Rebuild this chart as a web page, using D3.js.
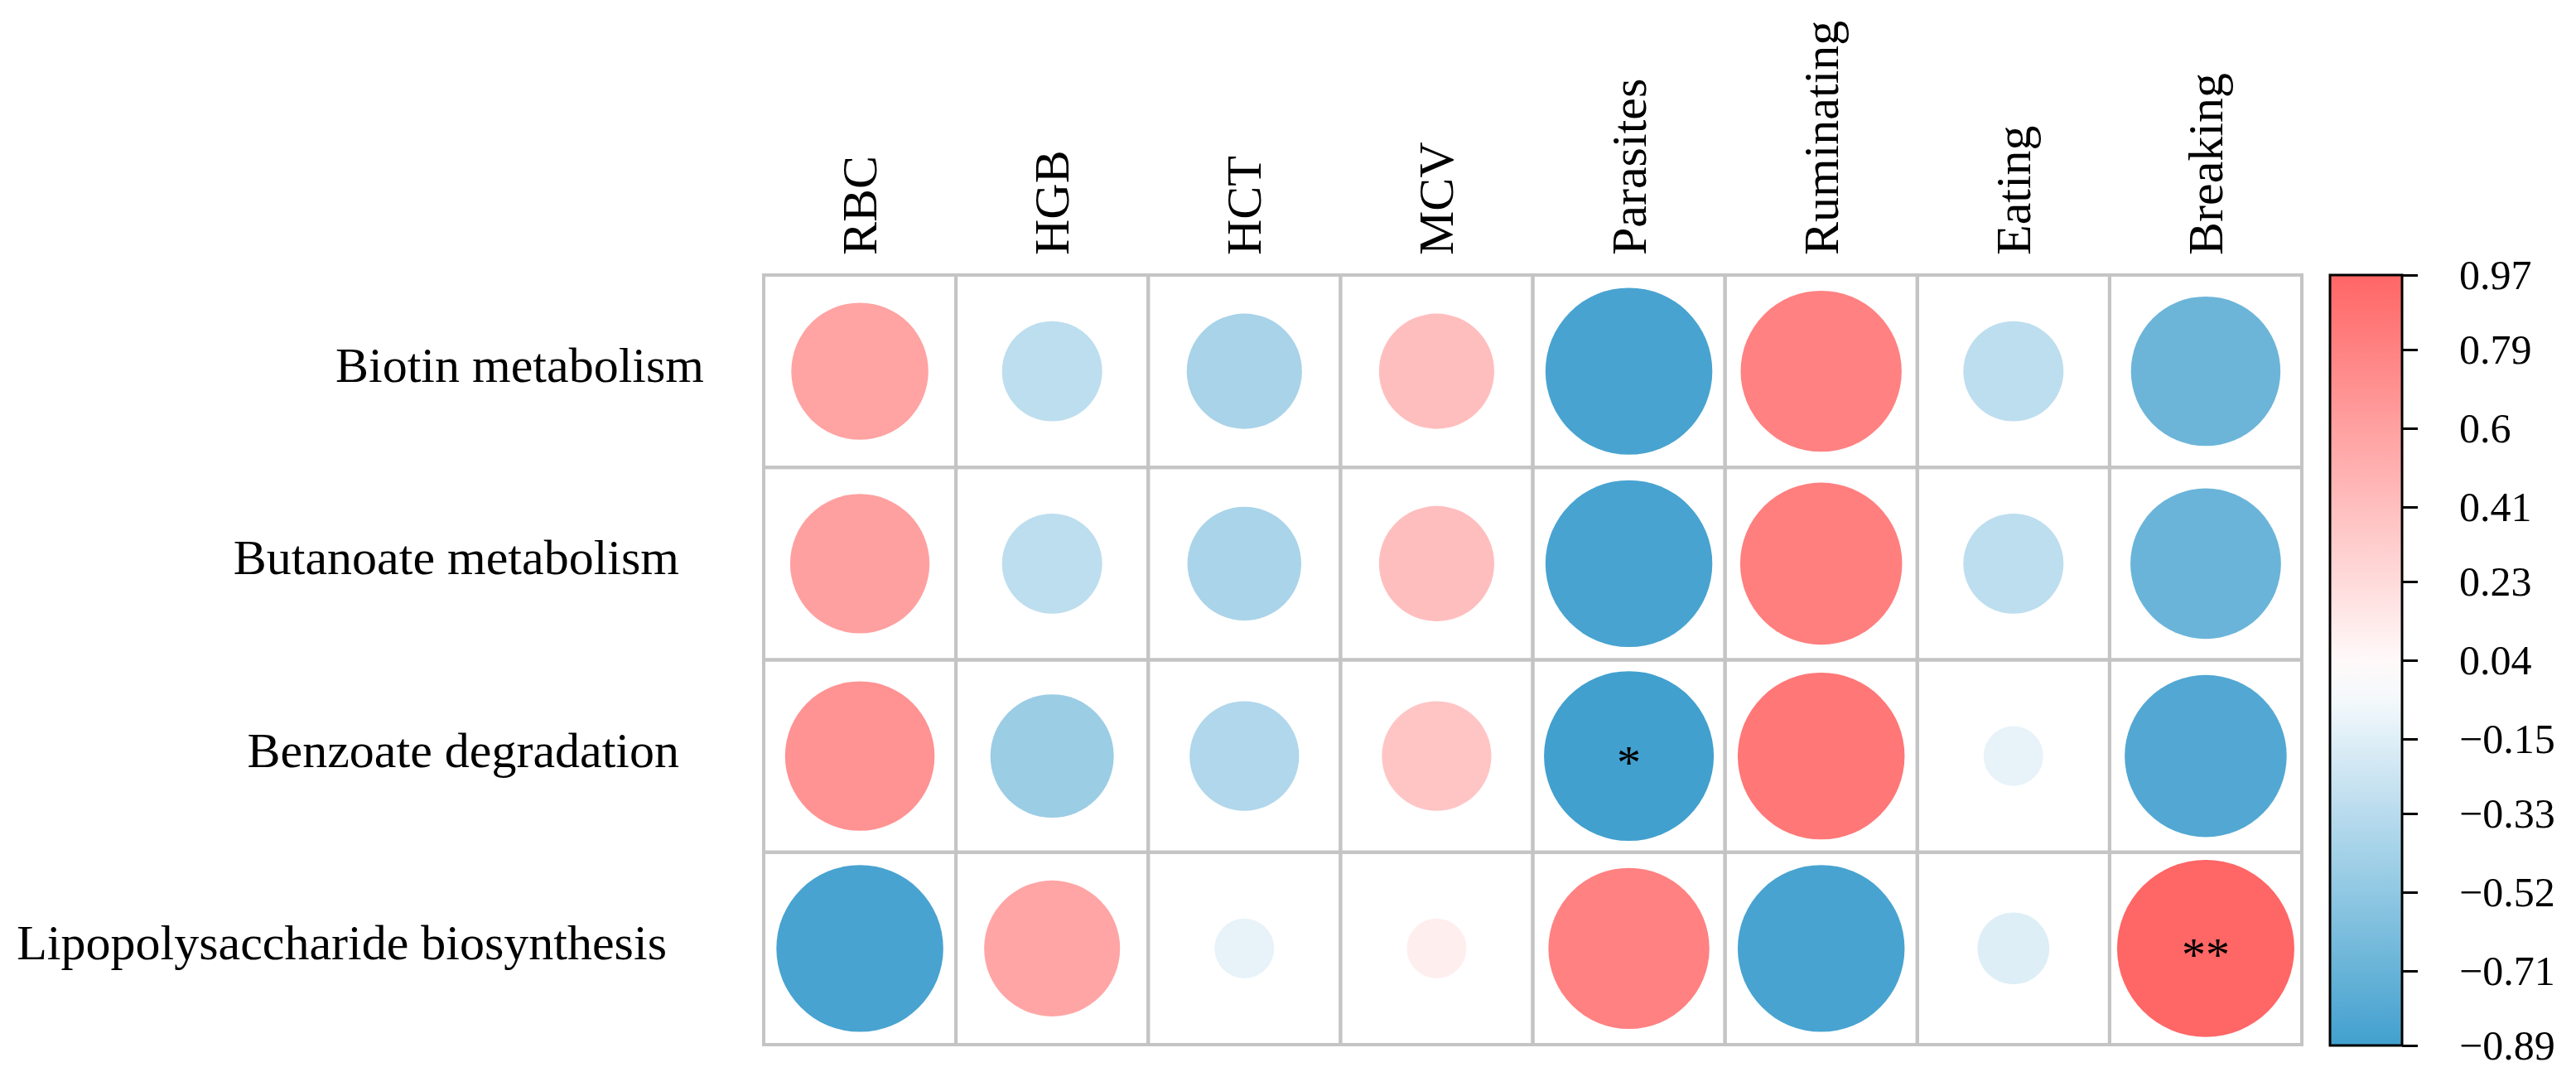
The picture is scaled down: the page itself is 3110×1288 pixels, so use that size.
<!DOCTYPE html>
<html>
<head>
<meta charset="utf-8">
<script src="https://cdn.jsdelivr.net/npm/d3@7"></script>
<style>
  body { margin: 0; background: #fff; }
  text { font-family: "Liberation Serif", "Times New Roman", serif; fill: #000; }
</style>
</head>
<body>
<div id="chart"></div>
<script>
// rows and columns of the correlation matrix
const pathways = ["Biotin metabolism", "Butanoate metabolism", "Benzoate degradation", "Lipopolysaccharide biosynthesis"];
const labelPad = [0, 2, 2, 3];   // trailing spaces on the row labels, as in the original
const traits = ["RBC", "HGB", "HCT", "MCV", "Parasites", "Ruminating", "Eating", "Breaking"];

// correlation coefficients, one array per pathway
const biotin     = [0.58, -0.31, -0.41, 0.41, -0.86, 0.80, -0.31, -0.69];
const butanoate  = [0.60, -0.31, -0.40, 0.41, -0.86, 0.81, -0.31, -0.70];
const benzoate   = [0.69, -0.47, -0.37, 0.37, -0.89, 0.86, -0.11, -0.81];
const lps        = [-0.86, 0.57, -0.11, 0.11, 0.80, -0.86, -0.16, 0.97];

// significance marks
const sigBiotin    = ["", "", "", "", "", "", "", ""];
const sigButanoate = ["", "", "", "", "", "", "", ""];
const sigBenzoate  = ["", "", "", "", "*", "", "", ""];
const sigLps       = ["", "", "", "", "", "", "", "**"];

// colour bar ticks
const barTicks = [0.97, 0.79, 0.6, 0.41, 0.23, 0.04, -0.15, -0.33, -0.52, -0.71, -0.89];

const values = [biotin, butanoate, benzoate, lps];
const sigs = [sigBiotin, sigButanoate, sigBenzoate, sigLps];

const cells = [];
pathways.forEach((p, i) => {
  traits.forEach((t, j) => {
    cells.push({ row: p, col: t, r: values[i][j], sig: sigs[i][j] });
  });
});

const width = 3110, height = 1288;

const svg = d3.select("#chart").append("svg")
  .attr("width", width)
  .attr("height", height);

const x = d3.scaleBand().domain(traits).range([922, 2779]);
const y = d3.scaleBand().domain(pathways).range([332, 1261]);

const radius = d3.scaleSqrt().domain([0, 1]).range([0, 0.468 * x.bandwidth()]);
const color = d3.scaleLinear()
  .domain([-1, 0, 1])
  .range(["#2A94C8", "#FFFFFF", "#FF6161"]);

// grid
const grid = svg.append("g")
  .attr("stroke", "#C4C4C4")
  .attr("stroke-width", 4)
  .attr("fill", "none");

grid.selectAll("rect")
  .data(cells)
  .enter()
  .append("rect")
  .attr("x", d => x(d.col))
  .attr("y", d => y(d.row))
  .attr("width", x.bandwidth())
  .attr("height", y.bandwidth());

// circles
svg.append("g")
  .selectAll("circle")
  .data(cells)
  .enter()
  .append("circle")
  .attr("cx", d => x(d.col) + x.bandwidth() / 2)
  .attr("cy", d => y(d.row) + y.bandwidth() / 2)
  .attr("r", d => radius(Math.abs(d.r)))
  .attr("fill", d => color(d.r));

// stars
svg.append("g")
  .selectAll("text")
  .data(cells.filter(d => d.sig))
  .enter()
  .append("text")
  .attr("x", d => x(d.col) + x.bandwidth() / 2)
  .attr("y", d => y(d.row) + y.bandwidth() / 2 + 27)
  .attr("text-anchor", "middle")
  .style("font-size", "58px")
  .text(d => d.sig);

// row labels
svg.append("g")
  .selectAll("text")
  .data(pathways)
  .enter()
  .append("text")
  .attr("x", 850)
  .attr("y", d => y(d) + y.bandwidth() / 2 + 13)
  .attr("text-anchor", "end")
  .style("font-size", "60px")
  .style("white-space", "pre")
  .text((d, i) => d + " ".repeat(labelPad[i]));

// column labels
svg.append("g")
  .selectAll("text")
  .data(traits)
  .enter()
  .append("text")
  .attr("transform", d => `translate(${x(d) + x.bandwidth() / 2 + 20},308) rotate(-90)`)
  .style("font-size", "60px")
  .text(d => d);

// colour bar
const barX = 2813, barW = 87;
const barScale = d3.scaleLinear().domain([-0.89, 0.97]).range([1262, 332]);

const grad = svg.append("defs").append("linearGradient")
  .attr("id", "bar-grad")
  .attr("x1", 0).attr("y1", 1).attr("x2", 0).attr("y2", 0);

d3.range(0, 1.0001, 0.05).forEach(t => {
  const v = -0.89 + t * (0.97 + 0.89);
  grad.append("stop")
    .attr("offset", t)
    .attr("stop-color", color(v));
});

svg.append("rect")
  .attr("x", barX)
  .attr("y", barScale(0.97))
  .attr("width", barW)
  .attr("height", barScale(-0.89) - barScale(0.97))
  .attr("fill", "url(#bar-grad)")
  .attr("stroke", "#000")
  .attr("stroke-width", 3);

const barAxis = d3.axisRight(barScale)
  .tickValues(barTicks)
  .tickSize(19)
  .tickPadding(50)
  .tickFormat(d => String(d).replace("-", "\u2212"));

const axisG = svg.append("g")
  .attr("transform", `translate(${barX + barW},0)`)
  .call(barAxis);

axisG.select(".domain").remove();
axisG.selectAll(".tick line").attr("stroke", "#000").attr("stroke-width", 3);
axisG.selectAll(".tick text")
  .attr("fill", "#000")
  .style("font-family", "'Liberation Serif', 'Times New Roman', serif")
  .style("font-size", "50px");
</script>
</body>
</html>
